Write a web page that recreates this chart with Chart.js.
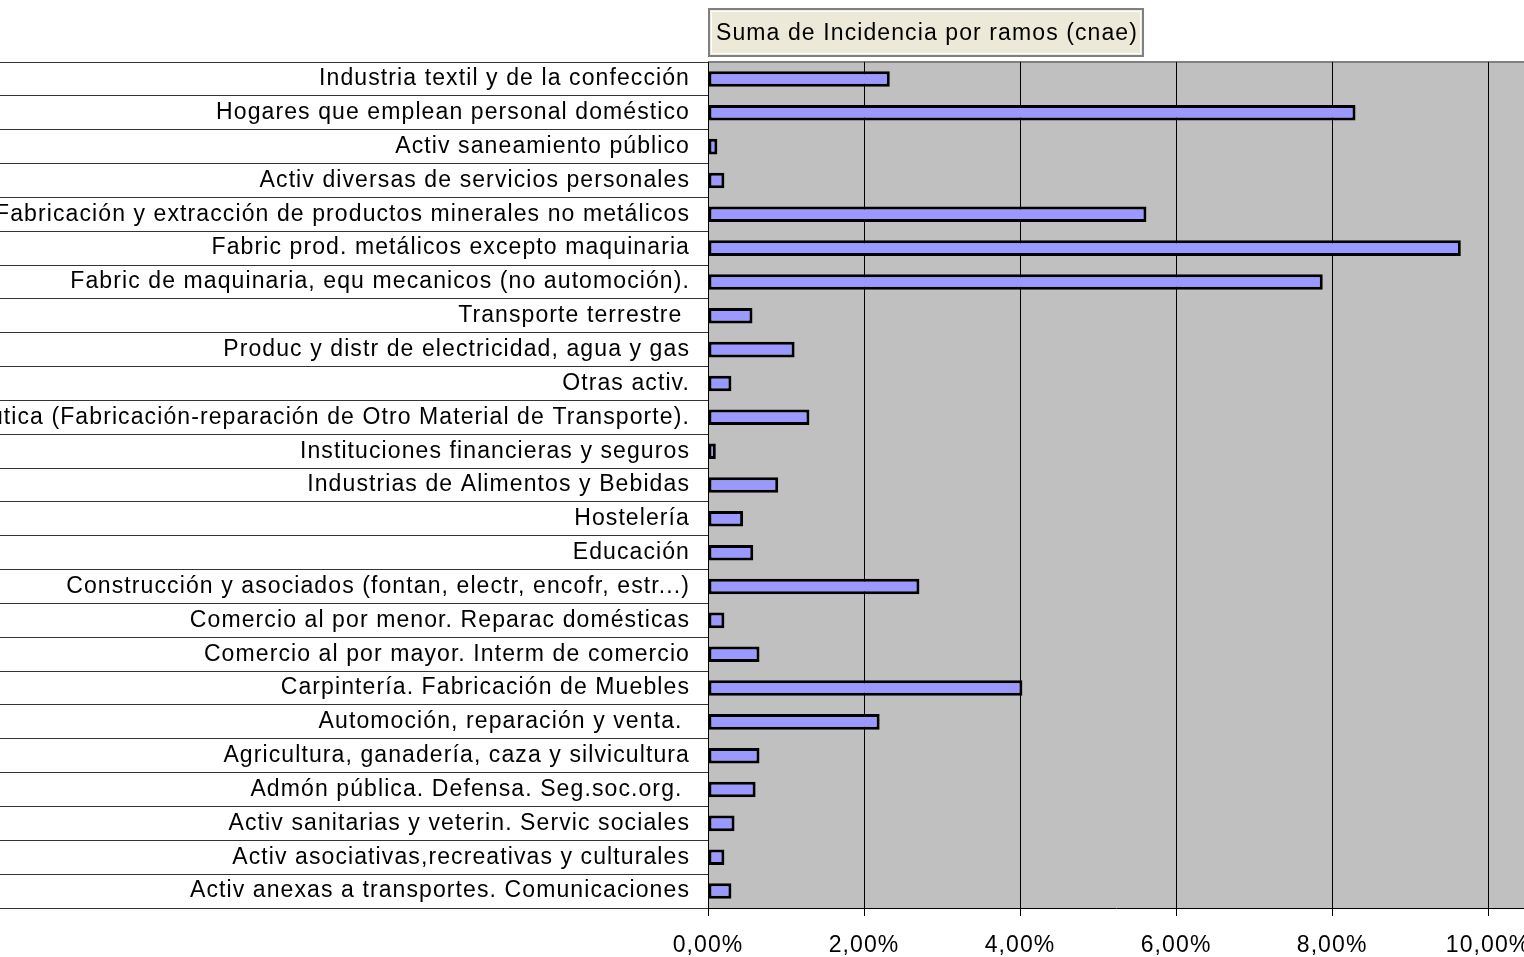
<!DOCTYPE html>
<html>
<head>
<meta charset="utf-8">
<script src="https://cdn.jsdelivr.net/npm/chart.js@4"></script>
<style>
  html, body { margin: 0; padding: 0; background: #fff; }
  #wrap { width: 1524px; height: 957px; }
</style>
</head>
<body>
<div id="wrap"><canvas id="chart" width="1524" height="957"></canvas></div>
<script>
// categories top to bottom
const ramos = [
  "Industria textil y de la confección",
  "Hogares que emplean personal doméstico",
  "Activ saneamiento público",
  "Activ diversas de servicios personales",
  "Fabricación y extracción de productos minerales no metálicos",
  "Fabric prod. metálicos excepto maquinaria",
  "Fabric de maquinaria, equ mecanicos (no automoción).",
  "Transporte terrestre ",
  "Produc y distr de electricidad, agua y gas",
  "Otras activ.",
  "Industria Naval y Aeronáutica (Fabricación-reparación de Otro Material de Transporte).",
  "Instituciones financieras y seguros",
  "Industrias de Alimentos y Bebidas",
  "Hostelería",
  "Educación",
  "Construcción y asociados (fontan, electr, encofr, estr...)",
  "Comercio al por menor. Reparac domésticas",
  "Comercio al por mayor. Interm de comercio",
  "Carpintería. Fabricación de Muebles",
  "Automoción, reparación y venta. ",
  "Agricultura, ganadería, caza y silvicultura",
  "Admón pública. Defensa. Seg.soc.org. ",
  "Activ sanitarias y veterin. Servic sociales",
  "Activ asociativas,recreativas y culturales",
  "Activ anexas a transportes. Comunicaciones"
];

// Suma de Incidencia (%)
const incidencia = [
  2.33, 8.30, 0.12, 0.21, 5.62, 9.65, 7.88, 0.57, 1.11, 0.30,
  1.30, 0.10, 0.90, 0.45, 0.58, 2.71, 0.21, 0.66, 4.03, 2.20,
  0.66, 0.61, 0.34, 0.21, 0.30
];

// x axis ticks (%)
const xTicks = [0, 2, 4, 6, 8, 10];
const xMin = 0;
const xMax = 10.46;

const tituloSerie = "Suma de Incidencia por ramos (cnae)";
const FONT = "Liberation Sans, Arial, sans-serif";
const SIZE = 23;
const SPACING = "1.1px";

const fmtPct = v => v.toFixed(2).replace(".", ",") + "%";

// wider letter spacing like the original renderer
const espaciado = {
  id: "espaciado",
  beforeLayout(chart) { chart.ctx.letterSpacing = SPACING; },
  beforeDraw(chart) { chart.ctx.letterSpacing = SPACING; }
};

// grey plot background, top border and the legend-style title box
const marco = {
  id: "marco",
  beforeDraw(chart) {
    const {ctx, chartArea: a} = chart;
    ctx.save();
    ctx.fillStyle = "#C0C0C0";
    ctx.fillRect(a.left, a.top, a.right - a.left, a.bottom - a.top);
    ctx.strokeStyle = "#808080";
    ctx.lineWidth = 2;
    ctx.beginPath();
    ctx.moveTo(a.left, a.top);
    ctx.lineTo(a.right, a.top);
    ctx.stroke();
    ctx.restore();
  },
  afterDraw(chart) {
    const {ctx, chartArea: a} = chart;
    ctx.save();
    ctx.letterSpacing = SPACING;
    ctx.font = SIZE + "px " + FONT;
    const w = ctx.measureText(tituloSerie).width + 14;
    const x = a.left, y = 8, h = 49;
    ctx.fillStyle = "#ECE9D8";
    ctx.fillRect(x, y, w, h);
    ctx.strokeStyle = "#808080";
    ctx.lineWidth = 2;
    ctx.strokeRect(x + 1, y + 1, w - 2, h - 2);
    ctx.strokeStyle = "#ffffff";
    ctx.lineWidth = 1;
    ctx.strokeRect(x + 3.5, y + 3.5, w - 7, h - 7);
    ctx.fillStyle = "#000";
    ctx.textBaseline = "middle";
    ctx.fillText(tituloSerie, x + 8, y + h / 2 + 1);
    ctx.restore();
  }
};

new Chart(document.getElementById("chart").getContext("2d"), {
  type: "bar",
  data: {
    labels: ramos,
    datasets: [{
      label: tituloSerie,
      data: incidencia,
      backgroundColor: "#9999FF",
      borderColor: "#000000",
      borderWidth: 3,
      borderSkipped: false,
      categoryPercentage: 1,
      barPercentage: 0.46
    }]
  },
  options: {
    indexAxis: "y",
    responsive: false,
    animation: false,
    layout: { padding: { top: 62, left: 0, right: 0, bottom: 0 } },
    plugins: { legend: { display: false }, title: { display: false }, tooltip: { enabled: false } },
    scales: {
      x: {
        min: xMin,
        max: xMax,
        ticks: {
          color: "#000",
          font: { family: FONT, size: SIZE },
          padding: 16,
          maxRotation: 0,
          autoSkip: false,
          callback: v => fmtPct(v)
        },
        afterBuildTicks(s) { s.ticks = xTicks.map(v => ({ value: v })); },
        afterFit(s) { s.height = 49; s.paddingLeft = 0; s.paddingRight = 0; },
        grid: { color: "#000", lineWidth: 1, tickLength: 8, drawTicks: true },
        border: { color: "#000", width: 1 }
      },
      y: {
        ticks: {
          autoSkip: false,
          color: "#000",
          font: { family: FONT, size: SIZE },
          padding: -690
        },
        afterFit(s) { s.width = 708; s.paddingTop = 0; s.paddingBottom = 0; },
        grid: { offset: true, drawOnChartArea: false, tickLength: 708, color: "#333", lineWidth: 1 },
        border: { color: "#000", width: 1 }
      }
    }
  },
  plugins: [espaciado, marco]
});
</script>
</body>
</html>
